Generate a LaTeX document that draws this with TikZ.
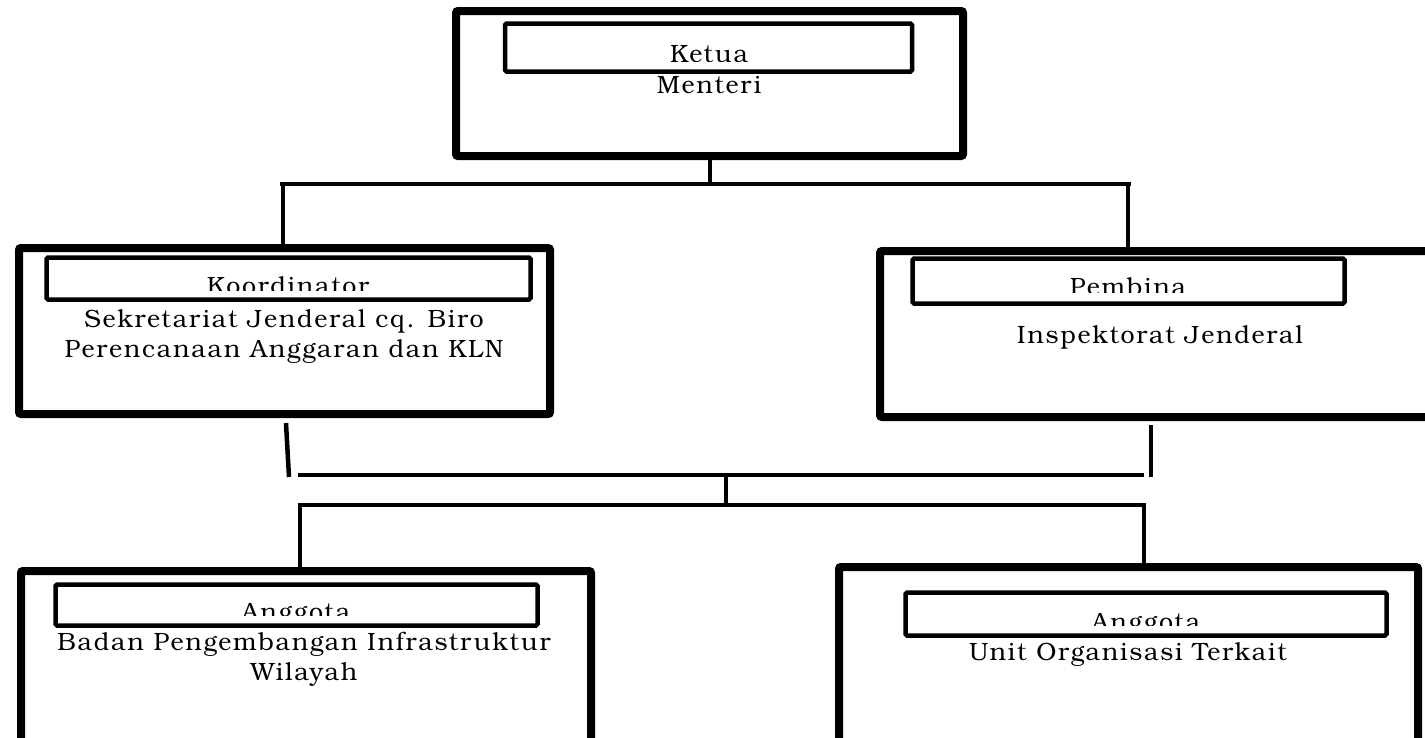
\documentclass[tikz,border=0pt]{standalone}
\usepackage{fontspec}
\setmainfont{texgyrebonum-regular.otf}[LetterSpace=7]
\tikzset{
  outerbox/.style={draw=black, line width=8pt, rounded corners=2pt, inner sep=0pt, fill=white},
  labelbox/.style={draw=black, line width=4.5pt, rounded corners=1.5pt, inner sep=0pt},
  boxtext/.style={inner sep=0pt, anchor=base, align=center, font=\fontsize{25}{30}\selectfont},
  conn/.style={draw=black, line width=4.5pt},
}
\begin{document}
\begin{tikzpicture}[x=1pt, y=-1pt]
\useasboundingbox (0,0) rectangle (1425,737);
\clip (0,0) rectangle (1425,737);
% boxes
\node[outerbox, minimum width=507pt, minimum height=145pt] (top) at (709.5,83.5) {};
\node[outerbox, minimum width=531pt, minimum height=166pt] (left) at (284.5,331) {};
\node[outerbox, minimum width=552pt, minimum height=166pt] (right) at (1156,334) {};
\node[outerbox, minimum width=570pt, minimum height=190pt] (botleft) at (306,666) {};
\node[outerbox, minimum width=579pt, minimum height=193pt] (botright) at (1128.5,663.5) {};
% label texts (clipped)
\begin{scope}
\clip (500,20) rectangle (920,61.5);
\node[boxtext] (ketuatext) at (709,62) {Ketua};
\end{scope}
\begin{scope}
\clip (40,255) rectangle (535,290.5);
\node[boxtext] (koordtext) at (288,294) {Koordinator};
\end{scope}
\begin{scope}
\clip (905,255) rectangle (1350,292);
\node[boxtext] (pembinatext) at (1128,295) {Pembina};
\end{scope}
\begin{scope}
\clip (50,580) rectangle (545,615.5);
\node[boxtext] (anggota1text) at (296,620) {Anggota};
\end{scope}
\begin{scope}
\clip (900,588) rectangle (1392,625.5);
\node[boxtext] (anggota2text) at (1146,630) {Anggota};
\end{scope}
% label boxes
\node[labelbox, minimum width=407pt, minimum height=48pt] (ketua) at (708.5,47.5) {};
\node[labelbox, minimum width=484pt, minimum height=42pt] (koord) at (288.5,278.5) {};
\node[labelbox, minimum width=432pt, minimum height=45pt] (pembina) at (1128.5,281) {};
\node[labelbox, minimum width=482pt, minimum height=41pt] (anggota1) at (296.5,605) {};
\node[labelbox, minimum width=481pt, minimum height=43pt] (anggota2) at (1146,614) {};
% main texts (multi-line nodes: base = last line)
\node[boxtext] (menteri) at (709,93) {Menteri};
\node[boxtext] (sekjen) at (284,357) {Sekretariat Jenderal cq. Biro\\Perencanaan Anggaran dan KLN};
\node[boxtext] (itjen) at (1160,343) {Inspektorat Jenderal};
\node[boxtext] (bpiw) at (304,680) {Badan Pengembangan Infrastruktur\\Wilayah};
\node[boxtext] (unit) at (1128,660) {Unit Organisasi Terkait};
% connectors top
\coordinate (barAL) at (280,184);
\coordinate (barAR) at (1131,184);
\coordinate (barAc) at (710,184);
\coordinate (barAl) at (283,184);
\coordinate (barAr) at (1128,184);
\draw[conn] (top.south -| barAc) -- (barAc);
\draw[conn] (barAL) -- (barAR);
\draw[conn] (barAl) -- (barAl |- left.north);
\draw[conn] (barAr) -- (barAr |- right.north);
% connectors bottom
\coordinate (stubL) at (289,477);
\coordinate (stubLtop) at (286,423);
\coordinate (stubR) at (1151,477);
\coordinate (barBL) at (298,475);
\coordinate (barBR) at (1144,475);
\coordinate (barBc) at (726,475);
\coordinate (barCL) at (298,505);
\coordinate (barCR) at (1146,505);
\coordinate (barCc) at (726,505);
\coordinate (barCl) at (300,505);
\coordinate (barCr) at (1144,505);
\draw[conn] (stubLtop) -- (stubL);
\draw[conn] (right.south -| stubR) ++(0,4) -- (stubR);
\draw[conn] (barBL) -- (barBR);
\draw[conn] (barBc) -- (barCc);
\draw[conn] (barCL) -- (barCR);
\draw[conn] (barCl) -- (barCl |- botleft.north);
\draw[conn] (barCr) -- (barCr |- botright.north);
\end{tikzpicture}
\end{document}
